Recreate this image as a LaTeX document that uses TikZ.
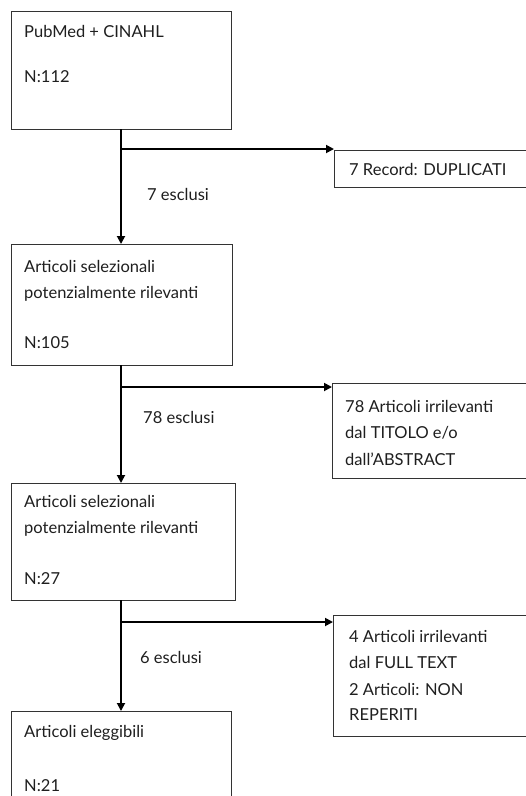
\documentclass[tikz,border=0pt]{standalone}
\usepackage{fontspec}
\setmainfont{Lato}
\usetikzlibrary{arrows.meta}
\begin{document}
\begin{tikzpicture}[x=1pt,y=-1pt,
  box/.style={draw=black!80,line width=1.2pt,rectangle,inner sep=0pt,anchor=north west},
  txt/.style={inner sep=0pt,anchor=base west,font=\fontsize{16.5}{20}\selectfont,text=black!88},
  arr/.style={draw=black,line width=1.8pt,-{Triangle[length=8pt,width=8pt]}},
  ln/.style={draw=black,line width=1.8pt}]
\useasboundingbox[fill=white] (0,0) rectangle (526,796);
% left boxes
\node[box,minimum width=220pt,minimum height=118pt] (b1) at (11,11) {};
\node[box,minimum width=221pt,minimum height=121pt] (b2) at (11,244) {};
\node[box,minimum width=224pt,minimum height=117pt] (b3) at (11,483) {};
\node[box,minimum width=220pt,minimum height=100pt] (b5) at (11,711) {};
% right boxes
\node[box,minimum width=200pt,minimum height=37pt] (r1) at (334,150) {};
\node[box,minimum width=200pt,minimum height=95pt] (r2) at (332,383) {};
\node[box,minimum width=200pt,minimum height=121pt] (r3) at (333,615) {};
% texts
\node[txt] (t1a) at (24,37) {PubMed + CINAHL};
\node[txt] (t1b) at (24,82) {N:112};
\node[txt] (t2a) at (24,272) {Articoli selezionali};
\node[txt] (t2b) at (24,298) {potenzialmente rilevanti};
\node[txt] (t2c) at (24,348) {N:105};
\node[txt] (t3a) at (24,507) {Articoli selezionali};
\node[txt] (t3b) at (24,533) {potenzialmente rilevanti};
\node[txt] (t3c) at (24,584) {N:27};
\node[txt] (t5a) at (24,737) {Articoli eleggibili};
\node[txt] (t5b) at (24,791) {N:21};
\node[txt] (tr1) at (349,175) {7 Record: DUPLICATI};
\node[txt] (tr2a) at (345,412) {78 Articoli irrilevanti};
\node[txt] (tr2b) at (345,438) {dal TITOLO e/o};
\node[txt] (tr2c) at (345,465) {dall'ABSTRACT};
\node[txt] (tr3a) at (349,642) {4 Articoli irrilevanti};
\node[txt] (tr3b) at (349,668) {dal FULL TEXT};
\node[txt] (tr3c) at (349,695) {2 Articoli: NON};
\node[txt] (tr3d) at (349,720) {REPERITI};
\node[txt] (e1) at (147,200) {7 esclusi};
\node[txt] (e2) at (143,423) {78 esclusi};
\node[txt] (e3) at (140,663) {6 esclusi};
% junctions
\coordinate (j1) at (121,149);
\coordinate (j2) at (121,387);
\coordinate (j3) at (121,622);
% connectors
\draw[arr] (121,129) -- (121,244);
\draw[arr] (121,365) -- (121,483);
\draw[arr] (121,600) -- (121,711);
\draw[arr] (j1) -- (r1.west |- j1);
\draw[arr] (j2) -- (r2.west |- j2);
\draw[arr] (j3) -- (r3.west |- j3);
\end{tikzpicture}
\end{document}
